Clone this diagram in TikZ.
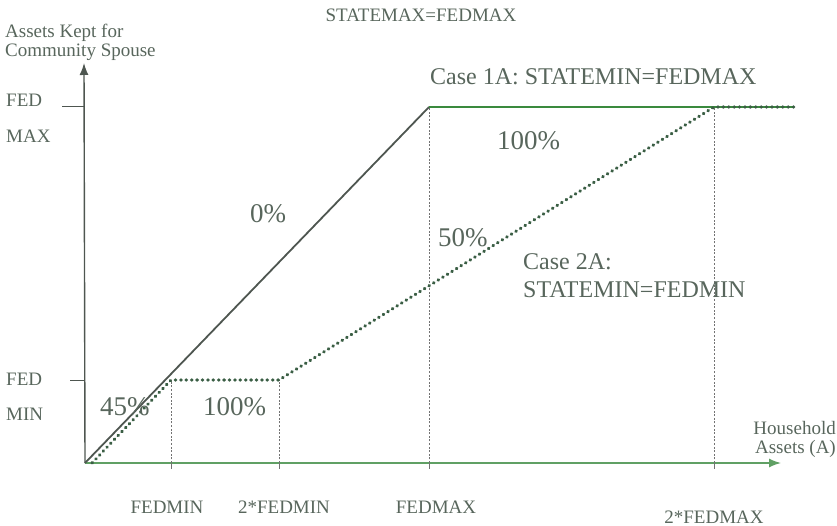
\documentclass[tikz,border=0pt]{standalone}
\usepackage{fontspec}
\setmainfont{Liberation Serif}
\usetikzlibrary{arrows.meta}

\definecolor{txtgrey}{RGB}{88,102,92}
\definecolor{linegrey}{RGB}{78,86,80}
\definecolor{linegreen}{RGB}{58,138,62}
\definecolor{axisgreen}{RGB}{96,160,100}
\definecolor{dotgreen}{RGB}{58,94,68}

\tikzset{
 lbl/.style={text=txtgrey, inner sep=0pt, anchor=base},
 small/.style={font=\fontsize{19}{19}\selectfont},
 big/.style={font=\fontsize{24}{28}\selectfont},
 pct/.style={font=\fontsize{27}{30}\selectfont},
 guide/.style={black!55, line width=0.7pt, dash pattern=on 2pt off 1.6pt},
 dotline/.style={dotgreen, line width=3.2pt, line cap=round, dash pattern=on 0.6pt off 4.8pt},
 axisarrow/.style={-{Latex[length=12pt,width=9pt]}, line width=1.4pt}
}

\begin{document}
\begin{tikzpicture}[x=1pt,y=-1pt]
\useasboundingbox (0,0) rectangle (837,526);

\coordinate (O) at (85,463);
\coordinate (yend) at (84,63);
\coordinate (xend) at (781,463);
\coordinate (fmin) at (171,380);
\coordinate (tfmin) at (279,380);
\coordinate (fmax) at (429,107);
\coordinate (tfmax) at (714,107);
\coordinate (rend) at (794,107);
\coordinate (dstart) at (92,463);
\coordinate (ax1) at (171,463);
\coordinate (ax2) at (279,463);
\coordinate (ax3) at (429,463);
\coordinate (ax4) at (714,463);
\coordinate (ty1) at (62,107);
\coordinate (ty2) at (70,380);

% axes
\draw[axisarrow, linegrey] (O) -- (yend);
\draw[axisarrow, axisgreen] (O) -- (xend);
\draw[linegrey, line width=1pt] (ty1) -- (ty1 -| O);
\draw[linegrey, line width=1pt] (ty2) -- (ty2 -| O);

% guides
\draw[guide] (ax1) -- (fmin);
\draw[guide] (ax2) -- (tfmin);
\draw[guide] (ax3) -- (fmax);
\draw[guide] (ax4) -- (tfmax);
\foreach \t in {ax1,ax2,ax3,ax4}
 \draw[black!55, line width=0.7pt] (\t) -- ++(0,6);

% case 1A
\draw[linegrey, line width=1.8pt] (O) -- (fmax);
\draw[linegreen, line width=2pt] (fmax) -- (rend);
% case 2A
\draw[dotline] (dstart) -- (fmin) -- (tfmin) -- (tfmax) -- (rend);

\node[lbl, small] (smax) at (421,22) {STATEMAX=FEDMAX};
\node[lbl, small, anchor=base west, align=left] (ylab) at (5,57) {Assets Kept for\\Community Spouse};
\node[lbl, small, anchor=base west] (fed1) at (6,107) {FED};
\node[lbl, small, anchor=base west] (max1) at (6,143) {MAX};
\node[lbl, small, anchor=base west] (fed2) at (6,385) {FED};
\node[lbl, small, anchor=base west] (min2) at (6,420) {MIN};
\node[lbl, small, anchor=base east, align=right] (xlab) at (836,453) {Household\\Assets (A)};

\node[lbl, small] (lfmin) at (167,513) {FEDMIN};
\node[lbl, small] (ltfmin) at (284,513) {2*FEDMIN};
\node[lbl, small] (lfmax) at (436,513) {FEDMAX};
\node[lbl, small] (ltfmax) at (714,523) {2*FEDMAX};

\node[lbl, big, anchor=base west] (case1) at (430,85) {Case 1A: STATEMIN=FEDMAX};
\node[lbl, big, anchor=base west, align=left] (case2) at (523,298) {Case 2A:\\STATEMIN=FEDMIN};

\node[lbl, pct, anchor=base west] (p100a) at (497,150) {100\%};
\node[lbl, pct, anchor=base west] (p0) at (250,223) {0\%};
\node[lbl, pct, anchor=base west] (p50) at (438,247) {50\%};
\node[lbl, pct, anchor=base west] (p45) at (100,415) {45\%};
\node[lbl, pct, anchor=base west] (p100b) at (203,415) {100\%};
\end{tikzpicture}
\end{document}
